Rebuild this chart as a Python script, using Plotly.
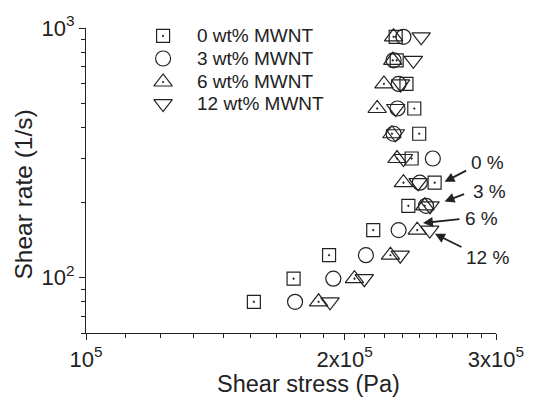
import math
import plotly.graph_objects as go

# Shear rate levels (1/s)
rate = [80, 99, 123, 155, 194, 240, 300, 377, 476, 597, 742, 922]

# Shear stress (Pa) for each MWNT loading
stress_0 = [1.568e5, 1.744e5, 1.918e5, 2.159e5, 2.372e5, 2.545e5, 2.393e5, 2.442e5, 2.410e5, 2.360e5, 2.299e5, 2.293e5]
stress_3 = [1.751e5, 1.940e5, 2.117e5, 2.311e5, 2.487e5, 2.446e5, 2.533e5, 2.280e5, 2.304e5, 2.311e5, 2.280e5, 2.341e5]
stress_6 = [1.865e5, 2.053e5, 2.261e5, 2.429e5, 2.479e5, 2.341e5, 2.301e5, 2.270e5, 2.182e5, 2.222e5, 2.275e5, 2.280e5]
stress_12 = [1.923e5, 2.108e5, 2.321e5, 2.512e5, 2.514e5, 2.435e5, 2.341e5, 2.291e5, 2.293e5, 2.323e5, 2.404e5, 2.455e5]

series_names = ["0 wt% MWNT", "3 wt% MWNT", "6 wt% MWNT", "12 wt% MWNT"]
symbols = ["square-open-dot", "circle-open", "triangle-up-open-dot", "triangle-down-open"]
sizes = [13, 15, 16, 16]

x_tickvals = [1e5, 2e5, 3e5]
x_ticktext = ["10<sup>5</sup>", "2x10<sup>5</sup>", "3x10<sup>5</sup>"]
x_minor = [1e5 + k * 1e5 / 9 for k in range(1, 9)] + [2e5 + k * 1e5 / 9 for k in range(1, 9)]
y_tickvals = [100, 1000]
y_ticktext = ["10<sup>2</sup>", "10<sup>3</sup>"]
y_minor = [60, 70, 80, 90, 200, 300, 400, 500, 600, 700, 800, 900]

x_title = "Shear stress (Pa)"
y_title = "Shear rate (1/s)"

# legend layout (fractions of the plot area)
legend_sym_x = 0.188
legend_text_x = 0.265
legend_rows_y = [0.974, 0.900, 0.823, 0.752]

# annotation labels
labels = ["0 %", "3 %", "6 %", "12 %"]
tip_x = [2.614e5, 2.614e5, 2.467e5, 2.547e5]
tip_y = [241.9, 201.8, 165.5, 149.8]
tail_dx = [23, 21, 38, 28]
tail_dy = [-12, -8, -4, 14]
text_x = [2.935e5, 2.945e5, 2.885e5, 2.935e5]
text_y = [290, 222, 172, 120.6]

ink = "#222222"
font_family = "Liberation Sans, Arial, sans-serif"

fig = go.Figure()
for xs, name, sym, sz in zip([stress_0, stress_3, stress_6, stress_12], series_names, symbols, sizes):
    fig.add_trace(go.Scatter(
        x=xs, y=rate, mode="markers", name=name, showlegend=False,
        marker=dict(symbol=sym, size=sz, color=ink, line=dict(color=ink, width=1.2)),
    ))

# hand-built legend on an overlay axis spanning the plot area
for name, sym, sz, ly in zip(series_names, symbols, sizes, legend_rows_y):
    fig.add_trace(go.Scatter(
        x=[legend_sym_x], y=[ly], mode="markers", xaxis="x2", yaxis="y2",
        showlegend=False, hoverinfo="skip",
        marker=dict(symbol=sym, size=sz, color=ink, line=dict(color=ink, width=1.2)),
    ))
    fig.add_annotation(x=legend_text_x, y=ly, xref="paper", yref="paper", text=name,
                       showarrow=False, xanchor="left", yanchor="middle",
                       font=dict(size=19, color=ink, family=font_family))

for lab, tx, ty, dx, dy, lx, ly in zip(labels, tip_x, tip_y, tail_dx, tail_dy, text_x, text_y):
    fig.add_annotation(x=math.log10(tx), y=math.log10(ty), text="",
                       showarrow=True, ax=dx, ay=dy, arrowhead=2, arrowsize=1.1,
                       arrowwidth=1.8, arrowcolor=ink)
    fig.add_annotation(x=math.log10(lx), y=math.log10(ly), text=lab,
                       showarrow=False, font=dict(size=19, color=ink, family=font_family))

# axis titles (placed slightly off-centre, as in the original)
fig.add_annotation(x=0.542, y=-0.167, xref="paper", yref="paper", text=x_title,
                   showarrow=False, xanchor="center", yanchor="middle",
                   font=dict(size=23.5, color=ink, family=font_family))
fig.add_annotation(x=-0.153, y=0.455, xref="paper", yref="paper", text=y_title,
                   showarrow=False, xanchor="center", yanchor="middle", textangle=-90,
                   font=dict(size=24.5, color=ink, family=font_family))

fig.update_layout(
    width=536, height=401,
    margin=dict(l=86, r=31, t=22, b=68),
    plot_bgcolor="white", paper_bgcolor="white",
    font=dict(family=font_family, color=ink, size=20),
    showlegend=False,
    xaxis2=dict(overlaying="x", range=[0, 1], visible=False, fixedrange=True),
    yaxis2=dict(overlaying="y", range=[0, 1], visible=False, fixedrange=True),
)
fig.layout.xaxis.update(
    type="log", range=[5, 5.47712125472],
    showline=True, linecolor=ink, linewidth=1.3,
    showgrid=False, zeroline=False,
    ticks="outside", ticklen=6, tickwidth=1.3, tickcolor=ink,
    tickmode="array", tickvals=x_tickvals, ticktext=x_ticktext,
    tickfont=dict(size=22),
    minor=dict(tickmode="array", tickvals=x_minor, ticks="outside", ticklen=4, tickwidth=1.2, tickcolor=ink),
)
fig.layout.yaxis.update(
    type="log", range=[1.7781512504, 3],
    showline=True, linecolor=ink, linewidth=1.3,
    showgrid=False, zeroline=False,
    ticks="outside", ticklen=6, tickwidth=1.3, tickcolor=ink,
    tickmode="array", tickvals=y_tickvals, ticktext=y_ticktext,
    tickfont=dict(size=22),
    minor=dict(tickmode="array", tickvals=y_minor, ticks="outside", ticklen=4, tickwidth=1.2, tickcolor=ink),
)

fig.write_html("out.html")
